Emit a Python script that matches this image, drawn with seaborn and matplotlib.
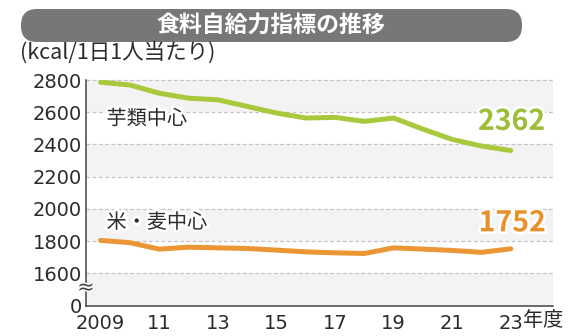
import matplotlib
matplotlib.use("Agg")
import matplotlib.pyplot as plt
import matplotlib.patheffects as pe
from matplotlib.patches import FancyBboxPatch
from matplotlib import font_manager as fm
import seaborn as sns
import pandas as pd

# ---- data ----
years = list(range(2009, 2024))
imo_values = [2786, 2769, 2718, 2687, 2677, 2636, 2595, 2564, 2568, 2543, 2564, 2495, 2431, 2390, 2362]
kome_values = [1804, 1790, 1750, 1762, 1758, 1754, 1744, 1733, 1727, 1723, 1758, 1750, 1742, 1730, 1752]
series_names = ["芋類中心", "米・麦中心"]
ytick_values = [1400, 1600, 1800, 2000, 2200, 2400, 2600, 2800]
ytick_labels = ["0", "1600", "1800", "2000", "2200", "2400", "2600", "2800"]
xtick_values = [2009, 2011, 2013, 2015, 2017, 2019, 2021, 2023]
xtick_labels = ["2009", "11", "13", "15", "17", "19", "21", "23"]
title = "食料自給力指標の推移"
unit_label = "(kcal/1日1人当たり)"

df = pd.DataFrame({
    "year": years * 2,
    "kcal": imo_values + kome_values,
    "series": [series_names[0]] * len(years) + [series_names[1]] * len(years),
})

sns.set_style("white")
plt.rcParams["font.family"] = ["Noto Sans CJK JP", "DejaVu Sans"]

available = {f.name for f in fm.fontManager.ttflist}
if "Liberation Sans Narrow" in available:
    num_family, num_size = ["Liberation Sans Narrow"], 24
else:
    num_family, num_size = ["Noto Sans CJK JP", "DejaVu Sans"], 20.5

GREEN = "#a9c93c"
GREEN_T = "#9dbd35"
ORANGE = "#ea9634"
ORANGE_T = "#e8912c"
TXT = "#2b2b2b"

W, H = 578, 336
fig = plt.figure(figsize=(W / 100, H / 100), dpi=100)
ax = fig.add_axes([86 / W, 30.5 / H, (553 - 86) / W, (305.5 - 80) / H])

# bands
for lo, hi in [(1400, 1600), (1800, 2000), (2200, 2400), (2600, 2800)]:
    ax.axhspan(lo, hi, color="#f3f3f3", zorder=0, lw=0)
for y in ytick_values[1:]:
    ax.axhline(y, color="#c4c4c4", lw=0.9, ls=(0, (3, 2)), zorder=1, clip_on=False)

sns.lineplot(data=df, x="year", y="kcal", hue="series",
             palette={series_names[0]: GREEN, series_names[1]: ORANGE},
             legend=False, linewidth=3.6, ax=ax, zorder=3,
             solid_capstyle="round")

ax.set_xlim(2008.5, 2024.44)
ax.set_ylim(1400, 2800)
ax.set_xlabel("")
ax.set_ylabel("")
ax.set_yticks(ytick_values)
ax.set_yticklabels(ytick_labels, family="DejaVu Sans", fontsize=14, color=TXT)
ax.set_xticks(xtick_values)
ax.set_xticklabels(xtick_labels, family="DejaVu Sans", fontsize=14, color=TXT)
ax.set_xticks([y for y in years if y % 2 == 0], minor=True)
ax.tick_params(axis="both", which="both", direction="in", length=5, width=1, color="#444444")
ax.tick_params(axis="x", pad=6)
ax.tick_params(axis="y", pad=3)

for s in ["top", "right"]:
    ax.spines[s].set_visible(False)
for s in ["left", "bottom"]:
    ax.spines[s].set_color("#444444")
    ax.spines[s].set_linewidth(1.1)

halo = [pe.withStroke(linewidth=4, foreground="white")]
ax.text(2009.2, 2557, series_names[0], fontsize=14.5, color=TXT, ha="left", va="center",
        path_effects=halo, zorder=5)
ax.text(2009.2, 1914, series_names[1], fontsize=14.5, color=TXT, ha="left", va="center",
        path_effects=halo, zorder=5)
ax.text(2023.03, 2540, str(imo_values[-1]), fontsize=num_size, fontweight="bold",
        family=num_family, color=GREEN_T,
        ha="center", va="center", path_effects=halo, zorder=5)
ax.text(2023.05, 1910, str(kome_values[-1]), fontsize=num_size, fontweight="bold",
        family=num_family, color=ORANGE_T,
        ha="center", va="center", path_effects=halo, zorder=5)

# axis break mark
ax.text(2008.5, 1511, "≈", fontsize=15, color="#444444", ha="center", va="center",
        family="DejaVu Sans", clip_on=False, zorder=6,
        path_effects=[pe.withStroke(linewidth=2, foreground="white")])

fig.text(523.5 / W, 16 / H, "年度", fontsize=14.5, color=TXT, ha="left", va="center")
fig.text(20 / W, (H - 53) / H, unit_label, fontsize=15.5, color=TXT, ha="left", va="center")

# title banner
box = FancyBboxPatch((21, H - 42), 501, 33, boxstyle="round,pad=0,rounding_size=16",
                     transform=None, facecolor="#777777", edgecolor="none")
fig.add_artist(box)
fig.text(271 / W, (H - 25.5) / H, title, fontsize=16.5, fontweight="bold", color="white",
         ha="center", va="center")

fig.savefig("out.png", dpi=100)
